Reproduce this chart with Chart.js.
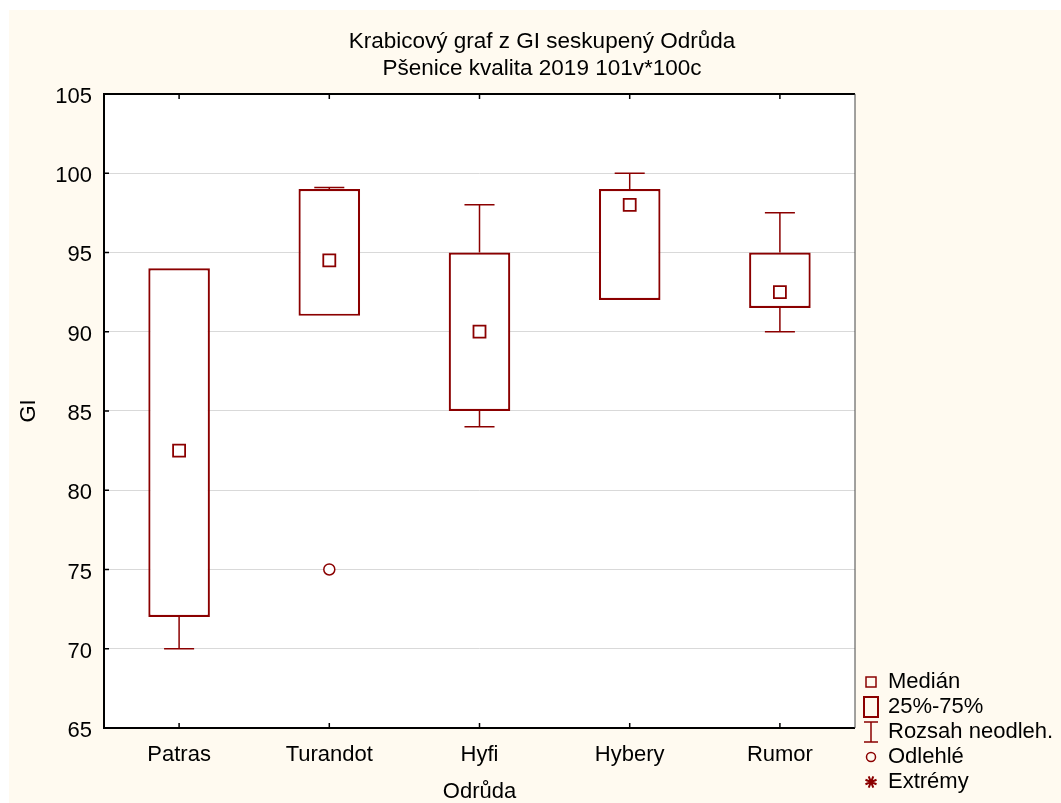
<!DOCTYPE html>
<html>
<head>
<meta charset="utf-8">
<script src="https://cdn.jsdelivr.net/npm/chart.js@4.4.0/dist/chart.umd.min.js"></script>
<style>
  html, body { margin: 0; padding: 0; background: #fff; }
  #wrap { position: absolute; left: 9px; top: 10px; width: 1052px; height: 793px; background: #FFFAF0; }
</style>
</head>
<body>
<div id="wrap"><canvas id="boxChart" width="1052" height="793"></canvas></div>
<script>
const categories = ["Patras", "Turandot", "Hyfi", "Hybery", "Rumor"];
const medians = [82.5, 94.5, 90, 98, 92.5];
const q1 = [72, 91, 85, 92, 91.5];
const q3 = [94, 99, 95, 99, 95];
const whiskerLow = [70, 91, 84, 92, 90];
const whiskerHigh = [94, 99.1, 98, 100, 97.5];
const outliers = [null, 75, null, null, null];
const extremes = [null, null, null, null, null];
const legendLabels = ["Medián", "25%-75%", "Rozsah neodleh.", "Odlehlé", "Extrémy"];
const titleLines = ["Krabicový graf z GI seskupený Odrůda", "Pšenice kvalita 2019 101v*100c"];

const RED = "#8B0000";
Chart.defaults.font.family = '"Liberation Sans", Arial, sans-serif';
Chart.defaults.font.size = 22;
Chart.defaults.color = "#000";

// whiskers + caps, under the boxes (skipped when the whisker ends on the box edge)
const whiskers = {
  id: "whiskers",
  beforeDatasetsDraw(chart) {
    const { ctx, scales: { x, y } } = chart;
    const capHalf = x.width / categories.length * 0.1;
    ctx.save();
    ctx.strokeStyle = RED;
    ctx.lineWidth = 1.5;
    categories.forEach((c, i) => {
      const cx = x.getPixelForValue(i);
      [[q3[i], whiskerHigh[i]], [q1[i], whiskerLow[i]]].forEach(([from, to]) => {
        if (from === to) return;
        const y0 = y.getPixelForValue(from), y1 = y.getPixelForValue(to);
        ctx.beginPath();
        ctx.moveTo(cx, y0); ctx.lineTo(cx, y1);
        ctx.moveTo(cx - capHalf, y1); ctx.lineTo(cx + capHalf, y1);
        ctx.stroke();
      });
    });
    ctx.restore();
  }
};

// white plot area, frame, inward ticks and the legend
const frame = {
  id: "frame",
  beforeDraw(chart) {
    const { ctx, chartArea: a } = chart;
    ctx.save();
    ctx.fillStyle = "#fff";
    ctx.fillRect(a.left, a.top, a.right - a.left, a.bottom - a.top);
    ctx.restore();
  },
  afterDraw(chart) {
    const { ctx, chartArea: a, scales: { x, y } } = chart;
    ctx.save();
    ctx.strokeStyle = "#000";
    ctx.lineWidth = 2;
    ctx.beginPath();
    ctx.moveTo(a.right, a.top); ctx.lineTo(a.left, a.top);
    ctx.lineTo(a.left, a.bottom); ctx.lineTo(a.right, a.bottom);
    ctx.stroke();
    ctx.lineWidth = 1;
    ctx.strokeStyle = "#444";
    ctx.beginPath();
    ctx.moveTo(a.right, a.top); ctx.lineTo(a.right, a.bottom);
    ctx.stroke();
    ctx.strokeStyle = "#000";
    ctx.lineWidth = 1.5;
    ctx.beginPath();
    y.ticks.forEach(t => {
      const py = y.getPixelForValue(t.value);
      ctx.moveTo(a.left, py); ctx.lineTo(a.left + 5, py);
    });
    categories.forEach((c, i) => {
      const px = x.getPixelForValue(i);
      ctx.moveTo(px, a.bottom); ctx.lineTo(px, a.bottom - 5);
      ctx.moveTo(px, a.top); ctx.lineTo(px, a.top + 5);
    });
    ctx.stroke();

    // legend
    const sx = a.right + 16, tx = a.right + 33;
    const ly = a.bottom - 46;
    ctx.strokeStyle = RED;
    legendLabels.forEach((label, k) => {
      const cy = ly + k * 25;
      ctx.lineWidth = 1.5;
      ctx.beginPath();
      if (k === 0) {
        ctx.strokeRect(sx - 5, cy - 5, 10, 10);
      } else if (k === 1) {
        ctx.lineWidth = 2;
        ctx.strokeRect(sx - 7, cy - 10, 14, 20);
      } else if (k === 2) {
        ctx.moveTo(sx - 7, cy - 10); ctx.lineTo(sx + 7, cy - 10);
        ctx.moveTo(sx, cy - 10); ctx.lineTo(sx, cy + 10);
        ctx.moveTo(sx - 7, cy + 10); ctx.lineTo(sx + 7, cy + 10);
        ctx.stroke();
      } else if (k === 3) {
        ctx.arc(sx, cy, 4.5, 0, Math.PI * 2);
        ctx.stroke();
      } else {
        ctx.lineWidth = 2;
        for (let j = 0; j < 4; j++) {
          const ang = j * Math.PI / 4 + Math.PI / 8;
          ctx.moveTo(sx - 6 * Math.cos(ang), cy - 6 * Math.sin(ang));
          ctx.lineTo(sx + 6 * Math.cos(ang), cy + 6 * Math.sin(ang));
        }
        ctx.stroke();
      }
      ctx.fillStyle = "#000";
      ctx.font = '22px "Liberation Sans", Arial, sans-serif';
      ctx.textBaseline = "middle";
      ctx.textAlign = "left";
      ctx.fillText(label, tx, cy);
    });
    ctx.restore();
  }
};

new Chart(document.getElementById("boxChart"), {
  data: {
    labels: categories,
    datasets: [
      {
        type: "line", label: "Medián", data: medians, yAxisID: "y",
        showLine: false, pointStyle: "rect", pointRadius: 8.5,
        pointBackgroundColor: "#fff", pointBorderColor: RED, pointBorderWidth: 1.8,
        order: 1
      },
      {
        type: "line", label: "Odlehlé", data: outliers, yAxisID: "y",
        showLine: false, pointStyle: "circle", pointRadius: 5.5,
        pointBackgroundColor: "#fff", pointBorderColor: RED, pointBorderWidth: 1.5,
        order: 1
      },
      {
        type: "line", label: "Extrémy", data: extremes, yAxisID: "y",
        showLine: false, pointStyle: "star", pointRadius: 6,
        pointBorderColor: RED, pointBorderWidth: 2,
        order: 1
      },
      {
        type: "bar", label: "25%-75%", yAxisID: "y",
        data: categories.map((c, i) => [q1[i], q3[i]]),
        backgroundColor: "#fff", borderColor: RED, borderWidth: 2.2,
        borderSkipped: false, barPercentage: 0.41, categoryPercentage: 1,
        order: 3
      }
    ]
  },
  options: {
    responsive: false,
    animation: false,
    layout: { padding: { left: 14 } },
    plugins: {
      legend: { display: false },
      tooltip: { enabled: false },
      title: {
        display: true, text: titleLines, color: "#000",
        font: { size: 22.5, weight: "normal", lineHeight: 1.22 },
        padding: { top: 18, bottom: 11 }
      }
    },
    scales: {
      x: {
        grid: { display: false },
        border: { display: false },
        ticks: { padding: 6 },
        title: { display: true, text: "Odrůda", padding: { top: 0, bottom: -2 } },
        afterFit(s) { s.height = 75; }
      },
      y: {
        min: 65, max: 105,
        ticks: { stepSize: 5, padding: 12, labelOffset: 3 },
        grid: { color: "#d9d9d9", drawTicks: false },
        border: { display: false },
        title: { display: true, text: "GI", padding: { top: -7, bottom: 0 } },
        afterFit(s) { s.width = 81; }
      },
      yr: {
        type: "linear", position: "right",
        grid: { display: false }, border: { display: false },
        ticks: { display: false },
        afterFit(s) { s.width = 206; }
      }
    }
  },
  plugins: [whiskers, frame]
});
</script>
</body>
</html>
